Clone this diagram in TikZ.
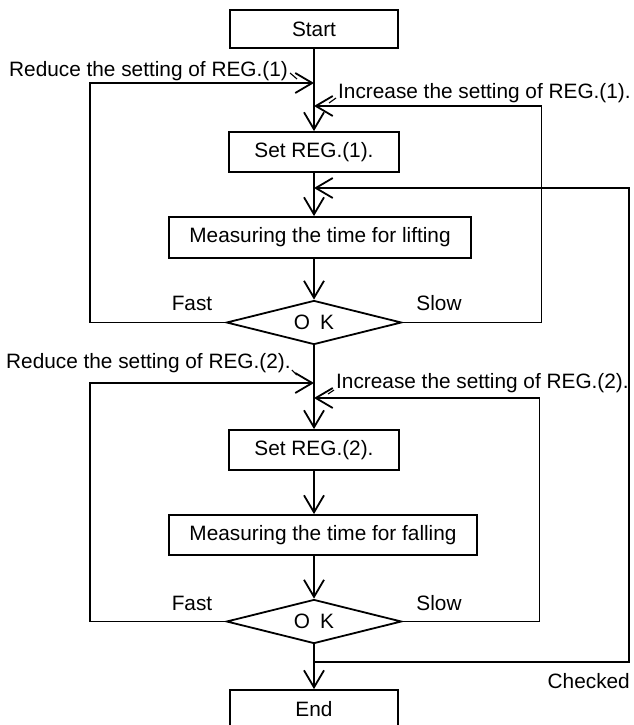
\documentclass[tikz,border=0pt]{standalone}
\usepackage{fontspec}
\setmainfont{Liberation Sans}
\usetikzlibrary{arrows.meta,shapes.geometric}
\begin{document}
\begin{tikzpicture}[x=1pt,y=-1pt,
  every node/.style={font=\fontsize{20.8pt}{24pt}\selectfont},
  box/.style={draw,line width=1.8pt,rectangle,inner sep=0pt,minimum height=40pt},
  dec/.style={draw,line width=1.8pt,diamond,inner sep=0pt,minimum width=175pt,minimum height=44pt,aspect=3.9},
  arr/.style={line width=1.8pt,-{Straight Barb[length=17pt,width=20pt]}},
  lbl/.style={anchor=base west,inner sep=0pt},
  tick/.style={line width=1.1pt}]
\clip (0,0) rectangle (634,725);
\useasboundingbox (0,0) rectangle (634,725);
% boxes
\node[box,minimum width=168pt,minimum height=38pt] (start) at (314,29) {Start};
\node[box,minimum width=170pt] (set1) at (314,152) {Set REG.(1).};
\node[box,minimum width=302pt,minimum height=41pt] (meas1) at (320,237.5) {Measuring the time for lifting};
\node[dec] (ok1) at (314,322.5) {O\hspace{10pt}K};
\node[box,minimum width=170pt] (set2) at (314,450) {Set REG.(2).};
\node[box,minimum width=308pt] (meas2) at (323,535) {Measuring the time for falling};
\node[dec] (ok2) at (314,621.5) {O\hspace{10pt}K};
\node[box,minimum width=168pt,minimum height=38pt] (end) at (314,709) {End};
% junctions
\coordinate (jr1) at (314,83);
\coordinate (ji1) at (314,106);
\coordinate (jc) at (314,188);
\coordinate (jr2) at (314,383);
\coordinate (ji2) at (314,398);
\coordinate (jk) at (314,662);
% main flow
\draw[arr] (start.south) -- (set1.north);
\draw[arr] (set1.south) -- (set1.south |- meas1.north);
\draw[arr] (set1.south |- meas1.south) -- (ok1.north);
\draw[arr] (ok1.south) -- (set2.north);
\draw[arr] (set2.south) -- (set2.south |- meas2.north);
\draw[arr] (set2.south |- meas2.south) -- (ok2.north);
\draw[arr] (ok2.south) -- (end.north);
% loops
\draw[arr] (ok1.west) -- ++(-136,0) |- (jr1);
\draw[arr] (ok1.east) -- ++(139,0) |- (ji1);
\draw[arr] (ok2.west) -- ++(-136,0) |- (jr2);
\draw[arr] (ok2.east) -- ++(137,0) |- (ji2);
\draw[arr] (jk) -- ++(315,0) |- (jc);
% labels
\node[lbl] (rl1) at (9,76) {Reduce the setting of REG.(1)};
\node[lbl] (il1) at (338,98) {Increase the setting of REG.(1).};
\node[lbl] (rl2) at (6,368) {Reduce the setting of REG.(2).};
\node[lbl] (il2) at (336,388) {Increase the setting of REG.(2).};
\node[anchor=base] (f1) at (192,310) {Fast};
\node[anchor=base] (s1) at (439,310) {Slow};
\node[anchor=base] (f2) at (192,610) {Fast};
\node[anchor=base] (s2) at (439,610) {Slow};
\node[anchor=base east,inner sep=0pt] (ck) at (630,688) {Checked};
% leader ticks
\draw[tick] (rl1.base east) ++(2,-3) -- ++(7,6);
\draw[tick] (il1.base west) ++(-2,0) -- ++(-7,5);
\draw[tick] (rl2.base east) ++(1,2) -- ++(5,5);
\draw[tick] (il2.base west) ++(-2,2) -- ++(-6,4);
\end{tikzpicture}
\end{document}
